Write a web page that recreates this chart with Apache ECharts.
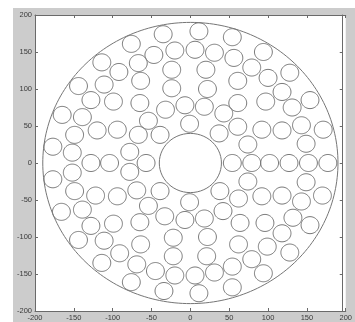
<!DOCTYPE html>
<html>
<head>
<meta charset="utf-8">
<script src="https://cdn.jsdelivr.net/npm/echarts@6/dist/echarts.min.js"></script>
<style>
  html, body { margin: 0; padding: 0; background: #ffffff; }
  #chart { width: 355px; height: 322px; }
</style>
</head>
<body>
<div id="chart"></div>
<script>
// Axis ticks (both axes share the same range)
const tickValues = [-200, -150, -100, -50, 0, 50, 100, 150, 200];

// Boundary rings of the annulus
const ringX = [0, 0];
const ringY = [0, 0];
const ringR = [190, 40];

// Small packed circles: centres and common radius
const smallR = 11.5;
const circleX = [
  // upper left
  -76, -114, -92, -144, -111, -128, -99, -165, -139, -120, -94, -149, -177, -152, -78,
  // horizontal row through the centre
  -128, -104, -57, 54, 79, 102, 127, 152, 177,
  // upper middle
  -35, 11, 54, -47, -20, 6, 31, 56, -67, -24, 20, -64, -24, 22, 61, -65, -32, -7, 18, 43, 61, -54, -1, -67, -39, 37, 61,
  // upper right
  94, 79, 100, 128, 118, 97, 131, 154, 92, 118, 143, 171, 74, 149,
  // lower left
  -177, -152, -78, -149, -122, -94, -69, -39, -54, -166, -139, -33, -128, -99, -65, -22, -144, -111, -64, -91, -114, -69, -45, -22, -76, -34, -20,
  // lower right
  74, 149, 38, 62, 92, 118, 143, 170, -1, 42, -7, 18, 64, 96, 132, 154, 22, 118, 62, 99, 79, 128, 21, 54, 94, 6, 31, 11, 54
];
const circleY = [
  161, 136, 123, 104, 106, 85, 83, 65, 62, 44, 45, 38, 22, 14, 15,
  0, 0, 0, 0, 0, 0, 0, 0, 0,
  174, 178, 170, 146, 152, 153, 149, 142, 135, 126, 126, 111, 101, 100, 111, 81, 72, 78, 76, 67, 81, 57, 53, 38, 38, 40, 49,
  150, 129, 115, 122, 96, 83, 75, 85, 45, 44, 51, 45, 25, 26,
  -22, -13, -12, -38, -44, -45, -37, -38, -58, -66, -63, -72, -85, -82, -80, -101, -104, -105, -110, -122, -135, -137, -146, -126, -161, -173, -152,
  -25, -26, -38, -48, -45, -44, -52, -44, -53, -65, -77, -75, -81, -81, -74, -84, -100, -95, -110, -113, -130, -121, -126, -140, -149, -152, -148, -176, -168
];

const circles = [];
for (let i = 0; i < ringX.length; i++) circles.push([ringX[i], ringY[i], ringR[i]]);
for (let i = 0; i < circleX.length; i++) circles.push([circleX[i], circleY[i], smallR]);

const lineColor = '#767676';
const axisColor = '#6a6a6a';
const labelStyle = { fontSize: 7.5, color: '#3a3a3a', fontFamily: 'Liberation Sans, Arial, sans-serif' };

// Each circle is traced in data space, so it follows the axis scales
function renderCircle(params, api) {
  const cx = api.value(0), cy = api.value(1), r = api.value(2);
  const n = r > 60 ? 240 : 56;
  const pts = [];
  for (let k = 0; k < n; k++) {
    const t = 2 * Math.PI * k / n;
    pts.push(api.coord([cx + r * Math.cos(t), cy + r * Math.sin(t)]));
  }
  return {
    type: 'polygon',
    shape: { points: pts },
    style: { fill: null, stroke: lineColor, lineWidth: 1 }
  };
}

function makeAxis(position, showLabel) {
  return {
    type: 'value',
    position: position,
    min: tickValues[0],
    max: tickValues[tickValues.length - 1],
    interval: tickValues[1] - tickValues[0],
    gridIndex: 0,
    axisLine: { show: true, onZero: false, lineStyle: { color: axisColor, width: 1 } },
    axisTick: { show: true, inside: true, length: 3, lineStyle: { color: axisColor } },
    axisLabel: Object.assign({ show: showLabel, margin: 3, showMinLabel: true, showMaxLabel: true, hideOverlap: false }, labelStyle),
    splitLine: { show: false }
  };
}

const chart = echarts.init(document.getElementById('chart'), null, { renderer: 'canvas' });
const xBottom = makeAxis('bottom', true);
const xTop = makeAxis('top', false);
const yLeft = makeAxis('left', true);
const yRight = makeAxis('right', false);
yRight.offset = -3;

chart.setOption({
  animation: false,
  backgroundColor: '#cccccc',
  grid: {
    left: 35, top: 15, right: 0, bottom: 10,
    show: true, backgroundColor: '#ffffff', borderWidth: 0
  },
  xAxis: [xBottom, xTop],
  yAxis: [yLeft, yRight],
  series: [{
    type: 'custom',
    xAxisIndex: 0,
    yAxisIndex: 0,
    renderItem: renderCircle,
    encode: { x: 0, y: 1 },
    data: circles,
    silent: true
  }],
  graphic: [
    { type: 'rect', left: 0, top: 0, shape: { width: 355, height: 8 }, style: { fill: '#ffffff' }, z: 100 },
    { type: 'rect', left: 0, top: 0, shape: { width: 13, height: 322 }, style: { fill: '#ffffff' }, z: 100 },
    { type: 'rect', left: 353, top: 8, shape: { width: 2, height: 314 }, style: { fill: '#cccccc' }, z: 100 }
  ]
});
</script>
</body>
</html>
